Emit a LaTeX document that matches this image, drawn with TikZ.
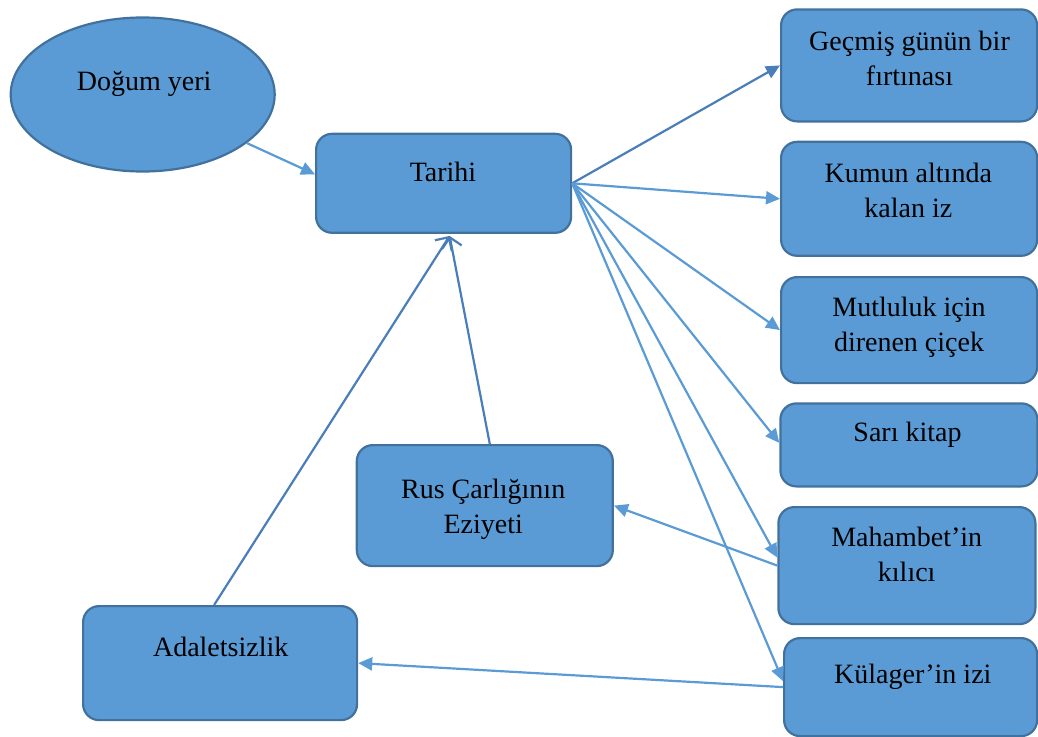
\documentclass[tikz,border=0pt]{standalone}
\usepackage{fontspec}
\setmainfont{Liberation Serif}
\usetikzlibrary{arrows.meta,shapes.geometric}
\definecolor{boxfill}{HTML}{5B9BD5}
\definecolor{boxline}{HTML}{41719C}
\definecolor{linklight}{HTML}{5B9BD5}
\definecolor{linkdark}{HTML}{4A7EBB}
\begin{document}
\begin{tikzpicture}[x=1pt,y=-1pt,
  box/.style={draw=boxline,fill=boxfill,line width=2.2pt,rounded corners=16pt,
              anchor=north west,inner sep=0pt},
  oval/.style={draw=boxline,fill=boxfill,line width=2.2pt,ellipse,inner sep=0pt},
  caption/.style={font=\fontsize{28}{35}\selectfont,align=center,anchor=base,inner sep=0pt},
  link/.style={draw=linklight,line width=2.2pt,-{Triangle[length=14pt,width=13pt]}},
  darklink/.style={link,draw=linkdark},
  openlink/.style={draw=linkdark,line width=2.2pt,-{Straight Barb[length=10pt,width=20pt]}}
]
\useasboundingbox (0,0) rectangle (1038,736);
\clip (0,0) rectangle (1038,736);

% shapes
\node[oval,minimum width=264pt,minimum height=154pt] (dogum) at (142.7,94.5) {};
\node[box,minimum width=255pt,minimum height=99pt]  (tarihi)   at (315,132.7) {};
\node[box,minimum width=256pt,minimum height=112pt] (gecmis)   at (780,8.3) {};
\node[box,minimum width=256pt,minimum height=114pt] (kumun)    at (780,140.7) {};
\node[box,minimum width=256pt,minimum height=106pt] (mutluluk) at (780,276) {};
\node[box,minimum width=257pt,minimum height=83pt]  (sari)     at (779.3,402.3) {};
\node[box,minimum width=257pt,minimum height=117pt] (mahambet) at (777.3,506) {};
\node[box,minimum width=253pt,minimum height=98pt]  (kulager)  at (783,637) {};
\node[box,minimum width=256pt,minimum height=121pt] (rus)      at (355.7,444) {};
\node[box,minimum width=274pt,minimum height=114pt] (adalet)   at (82,605) {};

% texts (base anchor sits on the last line)
\node[caption] (tdogum)    at (144.1,90.7)  {Doğum yeri};
\node[caption] (ttarihi)   at (443,181.7)   {Tarihi};
\node[caption] (tgecmis)   at (909.5,85)    {Geçmiş günün bir\\fırtınası};
\node[caption] (tkumun)    at (908.3,217.7) {Kumun altında\\kalan iz};
\node[caption] (tmutluluk) at (909,351.7)   {Mutluluk için\\direnen çiçek};
\node[caption] (tsari)     at (907.5,441.7) {Sarı kitap};
\node[caption] (tmahambet) at (906.7,581.7) {Mahambet’in\\kılıcı};
\node[caption] (tkulager)  at (912.8,683.3) {Külager’in izi};
\node[caption] (trus)      at (483.2,533.3) {Rus Çarlığının\\Eziyeti};
\node[caption] (tadalet)   at (220.7,656.7) {Adaletsizlik};

% connectors
\draw[link] (dogum.-25.8) -- ([yshift=9pt]tarihi.west);
\draw[darklink] (tarihi.east) -- (gecmis.west);
\draw[link] (tarihi.east) -- (kumun.west);
\draw[link] (tarihi.east) -- (mutluluk.west);
\draw[link] (tarihi.east) -- ([yshift=2pt]sari.west);
\draw[link] (tarihi.east) -- ([yshift=8pt]mahambet.west);
\draw[link] (tarihi.east) -- ([yshift=6pt]kulager.west);
\draw[link] (mahambet.west) -- (rus.east);
\draw[link] (kulager.west) -- (adalet.east);
\draw[openlink] ([xshift=5pt]rus.north) -- ([xshift=6pt,yshift=-2pt]tarihi.south);
\draw[openlink] ([xshift=-6pt]adalet.north) -- ([xshift=6pt,yshift=-2pt]tarihi.south);
\end{tikzpicture}
\end{document}
